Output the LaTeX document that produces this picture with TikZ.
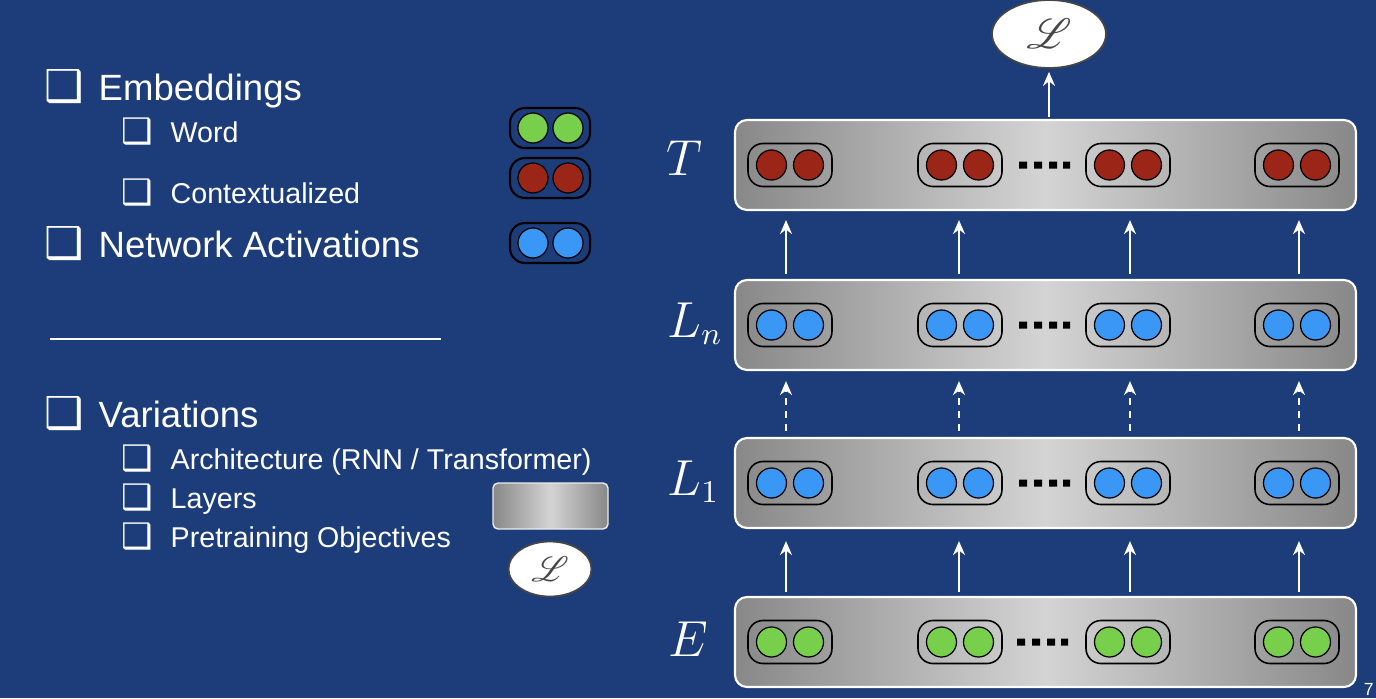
\documentclass[tikz,border=0pt]{standalone}
\usepackage{fontspec}
\usepackage{mathrsfs}
\usetikzlibrary{shapes.geometric,arrows.meta}
\newfontfamily\listfont{Liberation Sans}
\newfontfamily\boxfont{DejaVu Sans}
\definecolor{slidebg}{RGB}{28,60,122}
\definecolor{wordgreen}{RGB}{119,207,76}
\definecolor{ctxred}{RGB}{155,38,23}
\definecolor{actblue}{RGB}{58,151,245}
\definecolor{layerlite}{RGB}{212,212,212}
\definecolor{layerdark}{RGB}{136,136,136}
\definecolor{lossgray}{RGB}{70,70,70}
\tikzset{
  layer/.style={draw=white, line width=0.6pt, rounded corners=0.12cm, left color=layerdark, right color=layerdark, middle color=layerlite, minimum width=6.21cm, minimum height=0.9cm, inner sep=0pt},
  pill/.style={draw=black, line width=0.45pt, rounded corners=0.15cm, minimum width=0.84cm, minimum height=0.43cm, inner sep=0pt},
  keypill/.style={pill, fill=slidebg, line width=0.6pt, minimum width=0.8cm, minimum height=0.4cm},
  unit/.style={circle, draw=black, line width=0.35pt, minimum size=0.3cm, inner sep=0pt},
  loss/.style={ellipse, draw=lossgray, line width=0.5pt, fill=white, inner sep=0pt, text=lossgray},
  flow/.style={draw=white, line width=0.6pt, -{Stealth[length=0.14cm,width=0.12cm]}},
  bigitem/.style={anchor=base west, text=white, font=\listfont\fontsize{10.4}{12}\selectfont, inner sep=0pt},
  smallitem/.style={anchor=base west, text=white, font=\listfont\fontsize{8.15}{10}\selectfont, inner sep=0pt},
  bigbox/.style={anchor=base west, text=white, font=\boxfont\fontsize{12.5}{14}\selectfont, inner sep=0pt},
  smallbox/.style={anchor=base west, text=white, font=\boxfont\fontsize{10}{12}\selectfont, inner sep=0pt},
  lbl/.style={anchor=base west, text=white, font=\fontsize{13.3}{16}\selectfont, inner sep=0pt},
}
\begin{document}
\begin{tikzpicture}
	\useasboundingbox (0, 0) rectangle (13.76, -6.98);
	\fill[slidebg] (0, 0) rectangle (13.76, -6.98);
	
	% list on the left
	\node[bigbox] (bEmb) at (0.44, -1.01) {❑};
	\node[bigitem] (tEmb) at (0.98, -1.00) {Embeddings};
	\node[smallbox] (bWord) at (1.21, -1.43) {❑};
	\node[smallitem] (tWord) at (1.70, -1.42) {Word};
	\node[smallbox] (bCtx) at (1.21, -2.04) {❑};
	\node[smallitem] (tCtx) at (1.70, -2.03) {Contextualized};
	\node[bigbox] (bAct) at (0.44, -2.58) {❑};
	\node[bigitem] (tAct) at (0.98, -2.57) {Network Activations};
	
	\draw[white, line width=0.6pt] (0.50, -3.39) -- (4.41, -3.39);
	
	\node[bigbox] (bVar) at (0.44, -4.28) {❑};
	\node[bigitem] (tVar) at (0.98, -4.27) {Variations};
	\node[smallbox] (bArch) at (1.21, -4.70) {❑};
	\node[smallitem] (tArch) at (1.70, -4.69) {Architecture (RNN / Transformer)};
	\node[smallbox] (bLay) at (1.21, -5.09) {❑};
	\node[smallitem] (tLay) at (1.70, -5.08) {Layers};
	\node[smallbox] (bObj) at (1.21, -5.48) {❑};
	\node[smallitem] (tObj) at (1.70, -5.47) {Pretraining Objectives};
	
	% legend
	\node[keypill] (kw) at (5.50, -1.28) {};
	\node[unit, fill=wordgreen] (kw1) at (5.33, -1.28) {};
	\node[unit, fill=wordgreen] (kw2) at (5.68, -1.28) {};
	\node[keypill] (kc) at (5.50, -1.78) {};
	\node[unit, fill=ctxred] (kc1) at (5.33, -1.78) {};
	\node[unit, fill=ctxred] (kc2) at (5.68, -1.78) {};
	\node[keypill] (ka) at (5.50, -2.43) {};
	\node[unit, fill=actblue] (ka1) at (5.33, -2.43) {};
	\node[unit, fill=actblue] (ka2) at (5.68, -2.43) {};
	\node[draw=white!85!gray, line width=0.4pt, rounded corners=0.05cm, left color=layerdark, right color=layerdark, middle color=layerlite, minimum width=1.15cm, minimum height=0.46cm, inner sep=0pt] (kl) at (5.505, -5.06) {};
	\node[loss, minimum width=0.83cm, minimum height=0.55cm] (kloss) at (5.50, -5.69) {\fontsize{10}{12}\selectfont$\mathscr{L}$};
	
	% layers
	\node[layer] (E) at (10.455, -6.42) {};
	\node[layer] (L1) at (10.455, -4.83) {};
	\node[layer] (Ln) at (10.455, -3.25) {};
	\node[layer] (T) at (10.455, -1.65) {};
	\node[loss, minimum width=1.14cm, minimum height=0.68cm] (loss) at (10.49, -0.34) {\fontsize{12.8}{14}\selectfont$\mathscr{L}$};
	
	\node[lbl] (lT) at (6.66, -1.75) {$T$};
	\node[lbl] (lLn) at (6.67, -3.37) {$L_n$};
	\node[lbl] (lL1) at (6.67, -4.95) {$L_1$};
	\node[lbl] (lE) at (6.68, -6.56) {$E$};
	
	% units of T
	\node[pill] (t1) at (7.90, -1.65) {};
	\node[unit, fill=ctxred] (t1a) at (7.715, -1.65) {};
	\node[unit, fill=ctxred] (t1b) at (8.085, -1.65) {};
	\node[pill] (t2) at (9.60, -1.65) {};
	\node[unit, fill=ctxred] (t2a) at (9.415, -1.65) {};
	\node[unit, fill=ctxred] (t2b) at (9.785, -1.65) {};
	\node[pill] (t3) at (11.28, -1.65) {};
	\node[unit, fill=ctxred] (t3a) at (11.095, -1.65) {};
	\node[unit, fill=ctxred] (t3b) at (11.465, -1.65) {};
	\node[pill] (t4) at (12.97, -1.65) {};
	\node[unit, fill=ctxred] (t4a) at (12.785, -1.65) {};
	\node[unit, fill=ctxred] (t4b) at (13.155, -1.65) {};
	
	% units of L_n
	\node[pill] (n1) at (7.90, -3.25) {};
	\node[unit, fill=actblue] (n1a) at (7.715, -3.25) {};
	\node[unit, fill=actblue] (n1b) at (8.085, -3.25) {};
	\node[pill] (n2) at (9.60, -3.25) {};
	\node[unit, fill=actblue] (n2a) at (9.415, -3.25) {};
	\node[unit, fill=actblue] (n2b) at (9.785, -3.25) {};
	\node[pill] (n3) at (11.28, -3.25) {};
	\node[unit, fill=actblue] (n3a) at (11.095, -3.25) {};
	\node[unit, fill=actblue] (n3b) at (11.465, -3.25) {};
	\node[pill] (n4) at (12.97, -3.25) {};
	\node[unit, fill=actblue] (n4a) at (12.785, -3.25) {};
	\node[unit, fill=actblue] (n4b) at (13.155, -3.25) {};
	
	% units of L_1
	\node[pill] (f1) at (7.90, -4.83) {};
	\node[unit, fill=actblue] (f1a) at (7.715, -4.83) {};
	\node[unit, fill=actblue] (f1b) at (8.085, -4.83) {};
	\node[pill] (f2) at (9.60, -4.83) {};
	\node[unit, fill=actblue] (f2a) at (9.415, -4.83) {};
	\node[unit, fill=actblue] (f2b) at (9.785, -4.83) {};
	\node[pill] (f3) at (11.28, -4.83) {};
	\node[unit, fill=actblue] (f3a) at (11.095, -4.83) {};
	\node[unit, fill=actblue] (f3b) at (11.465, -4.83) {};
	\node[pill] (f4) at (12.97, -4.83) {};
	\node[unit, fill=actblue] (f4a) at (12.785, -4.83) {};
	\node[unit, fill=actblue] (f4b) at (13.155, -4.83) {};
	
	% units of E
	\node[pill] (e1) at (7.90, -6.42) {};
	\node[unit, fill=wordgreen] (e1a) at (7.715, -6.42) {};
	\node[unit, fill=wordgreen] (e1b) at (8.085, -6.42) {};
	\node[pill] (e2) at (9.60, -6.42) {};
	\node[unit, fill=wordgreen] (e2a) at (9.415, -6.42) {};
	\node[unit, fill=wordgreen] (e2b) at (9.785, -6.42) {};
	\node[pill] (e3) at (11.28, -6.42) {};
	\node[unit, fill=wordgreen] (e3a) at (11.095, -6.42) {};
	\node[unit, fill=wordgreen] (e3b) at (11.465, -6.42) {};
	\node[pill] (e4) at (12.97, -6.42) {};
	\node[unit, fill=wordgreen] (e4a) at (12.785, -6.42) {};
	\node[unit, fill=wordgreen] (e4b) at (13.155, -6.42) {};
	
	% dots
	\fill (10.19, -1.615) rectangle ++(0.08, -0.07) (10.34, -1.615) rectangle ++(0.08, -0.07) (10.49, -1.615) rectangle ++(0.08, -0.07) (10.63, -1.615) rectangle ++(0.07, -0.07);
	\fill (10.19, -3.215) rectangle ++(0.08, -0.07) (10.34, -3.215) rectangle ++(0.08, -0.07) (10.49, -3.215) rectangle ++(0.08, -0.07) (10.63, -3.215) rectangle ++(0.07, -0.07);
	\fill (10.19, -4.795) rectangle ++(0.08, -0.07) (10.34, -4.795) rectangle ++(0.08, -0.07) (10.49, -4.795) rectangle ++(0.08, -0.07) (10.63, -4.795) rectangle ++(0.07, -0.07);
	\fill (10.17, -6.385) rectangle ++(0.08, -0.07) (10.32, -6.385) rectangle ++(0.08, -0.07) (10.47, -6.385) rectangle ++(0.08, -0.07) (10.61, -6.385) rectangle ++(0.07, -0.07);
	
	% arrows
	\coordinate (a1) at (7.86, 0);
	\coordinate (a2) at (9.59, 0);
	\coordinate (a3) at (11.30, 0);
	\coordinate (a4) at (12.99, 0);
	
	\draw[flow, shorten <=0.04cm, shorten >=0.12cm] (E.north -| a1) -- (L1.south -| a1);
	\draw[flow, shorten <=0.04cm, shorten >=0.12cm] (E.north -| a2) -- (L1.south -| a2);
	\draw[flow, shorten <=0.04cm, shorten >=0.12cm] (E.north -| a3) -- (L1.south -| a3);
	\draw[flow, shorten <=0.04cm, shorten >=0.12cm] (E.north -| a4) -- (L1.south -| a4);
	
	\draw[flow, dash pattern=on 0.07cm off 0.06cm, shorten <=0.06cm, shorten >=0.10cm] (L1.north -| a1) -- (Ln.south -| a1);
	\draw[flow, dash pattern=on 0.07cm off 0.06cm, shorten <=0.06cm, shorten >=0.10cm] (L1.north -| a2) -- (Ln.south -| a2);
	\draw[flow, dash pattern=on 0.07cm off 0.06cm, shorten <=0.06cm, shorten >=0.10cm] (L1.north -| a3) -- (Ln.south -| a3);
	\draw[flow, dash pattern=on 0.07cm off 0.06cm, shorten <=0.06cm, shorten >=0.10cm] (L1.north -| a4) -- (Ln.south -| a4);
	
	\draw[flow, shorten <=0.05cm, shorten >=0.09cm] (Ln.north -| a1) -- (T.south -| a1);
	\draw[flow, shorten <=0.05cm, shorten >=0.09cm] (Ln.north -| a2) -- (T.south -| a2);
	\draw[flow, shorten <=0.05cm, shorten >=0.09cm] (Ln.north -| a3) -- (T.south -| a3);
	\draw[flow, shorten <=0.05cm, shorten >=0.09cm] (Ln.north -| a4) -- (T.south -| a4);
	
	\draw[flow, shorten <=0.02cm, shorten >=0.03cm] (T.north -| loss.south) -- (loss.south);
	
	\node[anchor=south east, text=white, font=\listfont\fontsize{5}{6}\selectfont, inner sep=0.5pt] (page) at (13.76, -6.98) {7};
\end{tikzpicture}
\end{document}
